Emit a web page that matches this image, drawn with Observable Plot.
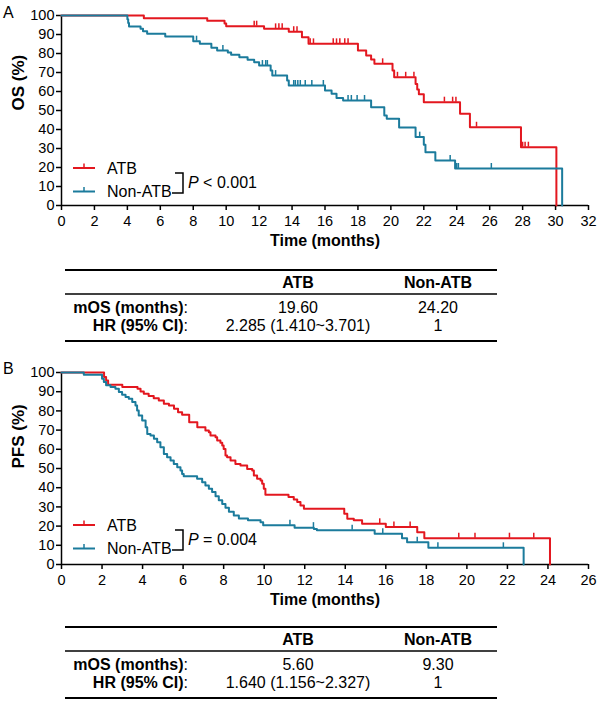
<!DOCTYPE html>
<html><head><meta charset="utf-8">
<script src="https://cdn.jsdelivr.net/npm/d3@7"></script>
<script src="https://cdn.jsdelivr.net/npm/@observablehq/plot@0.6"></script>
<style>
body{margin:0;background:#fff;font-family:"Liberation Sans",Arial,sans-serif;}
#root{position:relative;width:600px;height:703px;overflow:hidden;background:#fff}
.abs{position:absolute;left:0}
</style></head><body><div id="root"></div>
<script>
const RED = "#e3171f", BLUE = "#1b7b9c";
const groups = ["ATB", "Non-ATB"];

// Panel A: overall survival (months, %)
const osAtb = [[0,100],[5.0,98.6],[8.85,97.2],[9.9,95.8],[10.0,94.4],[12.3,93.0],[13.8,91.5],[14.6,88.6],[15.0,85.1],[18.0,81.6],[18.5,79.0],[18.8,76.8],[19.0,74.6],[20.1,71.0],[20.2,67.5],[21.5,64.0],[21.6,61.0],[21.7,58.5],[22.0,54.4],[24.2,48.3],[24.8,41.2],[27.9,30.7],[30.05,0]];
const osNon = [[0,100],[4.0,98.0],[4.05,96.1],[4.1,94.2],[4.8,93.0],[4.95,91.7],[5.2,90.4],[6.3,89.0],[8.0,86.5],[8.4,85.1],[9.1,83.0],[9.45,81.6],[10.1,80.5],[10.3,79.3],[10.8,78.0],[11.3,76.7],[11.7,75.4],[12.0,73.7],[12.7,71.0],[12.8,68.4],[13.7,65.8],[13.8,63.2],[16.0,60.5],[16.4,58.8],[16.7,56.6],[17.1,55.3],[18.8,51.7],[19.6,47.4],[19.75,45.6],[20.5,41.0],[21.5,36.0],[22.0,32.0],[22.1,28.0],[22.7,23.7],[23.9,19.5],[30.4,0]];
const osAtbCens = [11.7,11.85,13.0,13.2,13.4,14.1,14.3,15.1,15.3,16.5,16.7,16.9,17.2,17.4,19.5,20.4,20.9,21.4,23.25,23.75,23.95,25.2,28.0,28.15,28.35];
const osNonCens = [8.2,9.8,12.2,12.4,12.5,13.0,14.1,14.2,14.35,14.5,14.8,15.2,15.9,17.4,17.6,17.95,18.4,21.75,23.6,24.0,24.1,26.1];

// Panel B: progression-free survival (months, %)
const pfsAtb = [[0,100],[2.1,97.7],[2.2,95.8],[2.3,93.6],[3.0,92.4],[3.75,91.5],[3.9,90.1],[4.06,88.9],[4.3,87.7],[4.55,86.6],[4.8,85.4],[5.05,83.7],[5.3,82.8],[5.55,81.1],[5.75,79.3],[5.95,78.0],[6.3,74.1],[6.7,71.5],[7.1,69.8],[7.27,68.9],[7.35,67.2],[7.6,66.3],[7.68,64.6],[7.84,63.4],[7.93,62.0],[8.0,60.2],[8.09,56.8],[8.17,55.9],[8.34,54.2],[8.58,52.4],[8.83,51.6],[9.16,49.8],[9.41,49.0],[9.49,46.4],[9.65,44.6],[9.82,43.8],[9.9,42.0],[9.98,39.4],[10.06,36.3],[11.2,35.1],[11.46,33.8],[11.63,32.5],[11.79,30.7],[11.96,29.0],[13.95,26.4],[14.1,23.8],[14.42,23.0],[14.83,21.2],[16.0,19.5],[17.55,16.8],[17.9,13.7],[24.1,0]];
const pfsNon = [[0,100],[1.1,98.8],[2.0,96.7],[2.09,95.0],[2.2,93.4],[2.42,92.4],[2.66,91.5],[2.83,89.8],[2.99,88.4],[3.16,87.2],[3.32,86.3],[3.49,84.6],[3.65,82.8],[3.73,80.2],[3.81,77.6],[3.98,75.0],[4.15,71.5],[4.23,68.0],[4.39,67.2],[4.56,65.5],[4.72,63.7],[4.88,61.1],[5.05,57.6],[5.21,55.9],[5.38,54.2],[5.54,52.4],[5.71,50.7],[5.87,49.0],[5.95,47.2],[6.03,46.0],[6.69,44.6],[6.94,42.9],[7.1,41.2],[7.27,39.4],[7.43,37.7],[7.6,35.5],[7.76,33.5],[7.93,31.5],[8.09,29.5],[8.26,27.5],[8.5,25.5],[8.75,24.0],[9.2,23.0],[9.82,22.0],[9.95,20.4],[11.5,19.2],[12.45,18.5],[12.6,17.8],[15.45,16.0],[16.8,13.7],[17.05,11.6],[18.1,8.7],[22.8,0]];
const pfsAtbCens = [15.7,16.4,17.2,19.6,20.4,22.1,23.3];
const pfsNonCens = [11.27,12.43,14.34,15.85,17.55,18.57,21.8];

// Tables
const tableCols = ["ATB", "Non-ATB"];
const tableRowLabels = ["mOS (months)", "HR (95% CI)"];
const tableA = [["19.60", "24.20"], ["2.285 (1.410~3.701)", "1"]];
const tableB = [["5.60", "9.30"], ["1.640 (1.156~2.327)", "1"]];
const pValues = ["< 0.001", "= 0.004"];

function stepAt(curve, t) {
  let v = curve[0][1];
  for (const [x, y] of curve) { if (x <= t) v = y; else break; }
  return v;
}

function km({atb, non, atbCens, nonCens, xMax, yLabel, height, marginTop, marginBottom}) {
  const series = [
    ...atb.map(([t, s]) => ({t, s, g: "ATB"})),
    ...non.map(([t, s]) => ({t, s, g: "Non-ATB"}))
  ];
  const cens = [
    ...atbCens.map(t => ({t, s: stepAt(atb, t), g: "ATB"})),
    ...nonCens.map(t => ({t, s: stepAt(non, t), g: "Non-ATB"}))
  ];
  return Plot.plot({
    width: 600, height, marginLeft: 61, marginRight: 12, marginTop, marginBottom,
    style: {fontFamily: "'Liberation Sans', Arial, sans-serif", fontSize: "14.5px", color: "#000", background: "transparent", overflow: "visible"},
    x: {domain: [0, xMax]},
    y: {domain: [0, 100]},
    color: {domain: groups, range: [RED, BLUE]},
    marks: [
      Plot.axisX({ticks: d3.range(0, xMax + 1, 2), tickSize: 5, tickPadding: 5, tickFormat: d => d, label: null, strokeWidth: 1.5}),
      Plot.axisY({ticks: d3.range(0, 101, 10), tickSize: 5, tickPadding: 2, label: null, strokeWidth: 1.5}),
      Plot.ruleY([0], {stroke: "#000", strokeWidth: 1.5}),
      Plot.ruleX([0], {stroke: "#000", strokeWidth: 1.5}),
      Plot.line(series, {x: "t", y: "s", z: "g", stroke: "g", curve: "step-after", strokeWidth: 2}),
      Plot.ruleX(cens, {x: "t", y1: d => d.s, y2: d => d.s + 2.6, stroke: "g", strokeWidth: 1.5}),
      Plot.text(["Time (months)"], {frameAnchor: "bottom", dy: 40, fontWeight: "bold", fontSize: 16}),
      Plot.text([yLabel], {frameAnchor: "left", dx: -43, rotate: -90, fontWeight: "bold", fontSize: 17})
    ]
  });
}

const root = d3.select("#root");
const plotA = km({atb: osAtb, non: osNon, atbCens: osAtbCens, nonCens: osNonCens, xMax: 32, yLabel: "OS (%)", height: 255, marginTop: 15, marginBottom: 50});
const plotB = km({atb: pfsAtb, non: pfsNon, atbCens: pfsAtbCens, nonCens: pfsNonCens, xMax: 26, yLabel: "PFS (%)", height: 260, marginTop: 17, marginBottom: 51});
const wa = root.append("div").attr("class", "abs").style("top", "0px"); wa.node().appendChild(plotA);
const wb = root.append("div").attr("class", "abs").style("top", "355px"); wb.node().appendChild(plotB);

const ov = root.append("svg").attr("class", "abs").style("top", "0px")
  .attr("width", 600).attr("height", 703)
  .style("font-family", "'Liberation Sans', Arial, sans-serif");

ov.append("text").attr("x", 3).attr("y", 12).attr("dy", "0.35em").attr("font-size", 16).text("A");
ov.append("text").attr("x", 3).attr("y", 368).attr("dy", "0.35em").attr("font-size", 16).text("B");

function legend(y0, p) {
  const ys = [y0, y0 + 23.5];
  groups.forEach((name, i) => {
    const y = ys[i], c = i ? BLUE : RED;
    ov.append("line").attr("x1", 73).attr("x2", 95).attr("y1", y).attr("y2", y).attr("stroke", c).attr("stroke-width", 2);
    ov.append("line").attr("x1", 84).attr("x2", 84).attr("y1", y - 4.5).attr("y2", y).attr("stroke", c).attr("stroke-width", 1.5);
    ov.append("text").attr("x", 107).attr("y", y).attr("dy", "0.35em").attr("font-size", 16).text(name);
  });
  const top = y0 + 5, bot = y0 + 25;
  ov.append("path").attr("d", `M175,${top}H183V${bot}H172`).attr("fill", "none").attr("stroke", "#000").attr("stroke-width", 1.5);
  const t = ov.append("text").attr("x", 188).attr("y", (top + bot) / 2 - 1).attr("dy", "0.35em").attr("font-size", 16);
  t.append("tspan").attr("font-style", "italic").text("P");
  t.append("tspan").text(" " + p);
}
legend(168, pValues[0]);
legend(525, pValues[1]);

function table(top, vals) {
  const x0 = 65, x1 = 497, labX = 188, colX = [298, 438];
  ov.append("line").attr("x1", x0).attr("x2", x1).attr("y1", top).attr("y2", top).attr("stroke", "#000").attr("stroke-width", 2);
  ov.append("line").attr("x1", x0).attr("x2", x1).attr("y1", top + 24).attr("y2", top + 24).attr("stroke", "#000").attr("stroke-width", 1.3);
  ov.append("line").attr("x1", x0).attr("x2", x1).attr("y1", top + 71).attr("y2", top + 71).attr("stroke", "#000").attr("stroke-width", 2);
  tableCols.forEach((c, j) => ov.append("text").attr("x", colX[j]).attr("y", top + 12.5).attr("dy", "0.35em")
    .attr("text-anchor", "middle").attr("font-weight", "bold").attr("font-size", 16).text(c));
  const rowY = [top + 37.5, top + 55.5];
  tableRowLabels.forEach((lab, i) => {
    const t = ov.append("text").attr("x", labX).attr("y", rowY[i]).attr("dy", "0.35em").attr("text-anchor", "end").attr("font-size", 16);
    t.append("tspan").attr("font-weight", "bold").text(lab);
    t.append("tspan").text(":");
    vals[i].forEach((v, j) => ov.append("text").attr("x", colX[j]).attr("y", rowY[i]).attr("dy", "0.35em")
      .attr("text-anchor", "middle").attr("font-size", 16).text(v));
  });
}
table(270, tableA);
table(627, tableB);
</script>
</body></html>
